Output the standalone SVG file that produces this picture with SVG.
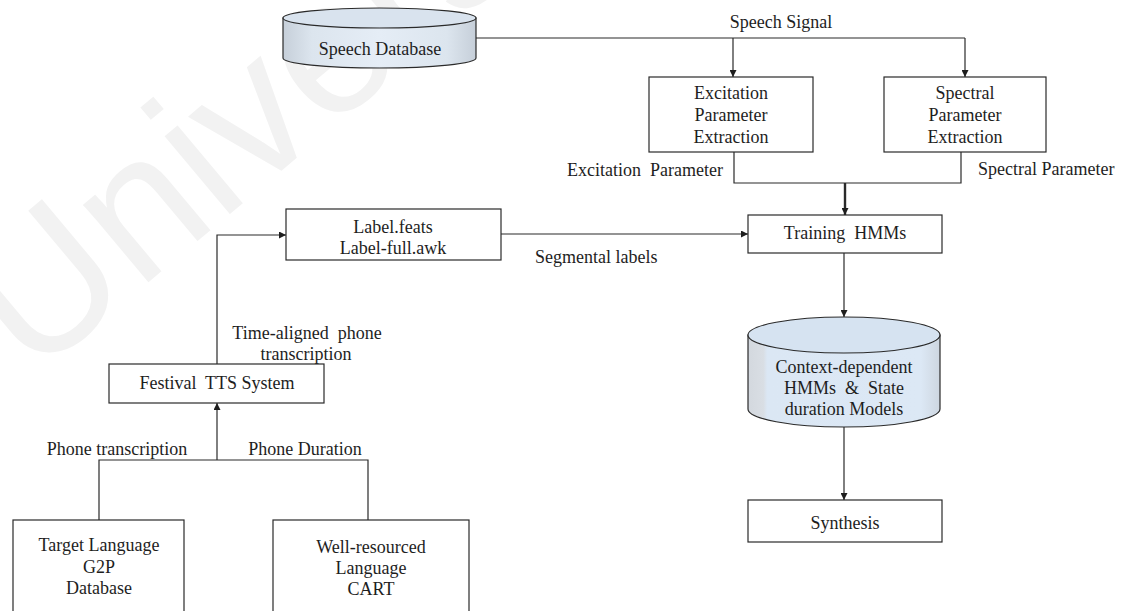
<svg xmlns="http://www.w3.org/2000/svg" width="1131" height="611" viewBox="0 0 1131 611">
  <style>
    .lbl { font-family: "Liberation Serif", "Times New Roman", serif; font-size: 18px; fill: #1e1e1e; }
    .mid { text-anchor: middle; }
    .pre { white-space: pre; }
    .box { fill: #ffffff; stroke: #2a2a2a; stroke-width: 1.2; }
    .db { stroke: #2a2a2a; stroke-width: 1.2; }
    .wire { fill: none; stroke: #2a2a2a; stroke-width: 1.2; }
    .thick { stroke-width: 2.4; }
    .mark { font-family: "Liberation Sans", Arial, sans-serif; font-size: 192px; fill: #f2f2f2; }
  </style>
  <defs>
    <marker id="arrow" viewBox="0 0 10 10" refX="10" refY="5" markerWidth="7" markerHeight="7" markerUnits="userSpaceOnUse" orient="auto">
      <path d="M0,0 L10,5 L0,10 Z" fill="#1e1e1e"/>
    </marker>
    <linearGradient id="dbBody" x1="0" y1="0" x2="1" y2="0">
      <stop offset="0" stop-color="#c6cfd9"/>
      <stop offset="0.15" stop-color="#dce5ee"/>
      <stop offset="0.5" stop-color="#e5edf6"/>
      <stop offset="0.85" stop-color="#dce5ee"/>
      <stop offset="1" stop-color="#c6cfd9"/>
    </linearGradient>
    <linearGradient id="hmmBody" x1="0" y1="0" x2="1" y2="0">
      <stop offset="0" stop-color="#d3d8de"/>
      <stop offset="0.08" stop-color="#d9dee4"/>
      <stop offset="0.1" stop-color="#dbe7f4"/>
      <stop offset="0.9" stop-color="#dce8f5"/>
      <stop offset="1" stop-color="#cdd6e0"/>
    </linearGradient>
  </defs>

  <!-- background and faint watermark -->
  <rect width="1131" height="611" fill="#ffffff"/>
  <text class="mark" transform="translate(32,380) rotate(-40)">University</text>

  <!-- connectors -->
  <g id="connectors">
    <path class="wire" d="M476,38 H965"/>
    <path class="wire" d="M733,38 V77" marker-end="url(#arrow)"/>
    <path class="wire" d="M965,38 V77" marker-end="url(#arrow)"/>
    <path class="wire" d="M734,152 V183 H961 V152"/>
    <path class="wire thick" d="M845,183 V215" marker-end="url(#arrow)"/>
    <path class="wire" d="M501,234 H748" marker-end="url(#arrow)"/>
    <path class="wire" d="M844,253 V317" marker-end="url(#arrow)"/>
    <path class="wire" d="M844,427 V500" marker-end="url(#arrow)"/>
    <path class="wire" d="M217,364 V235 H286" marker-end="url(#arrow)"/>
    <path class="wire" d="M99,520 V460 H368 V520"/>
    <path class="wire" d="M217,460 V403" marker-end="url(#arrow)"/>

    <text class="lbl mid" x="781" y="28">Speech Signal</text>
    <text class="lbl pre" x="723" y="176" text-anchor="end">Excitation  Parameter</text>
    <text class="lbl" x="978" y="175">Spectral Parameter</text>
    <text class="lbl" x="535" y="263">Segmental labels</text>
    <text class="lbl mid pre" x="307" y="339">Time-aligned  phone</text>
    <text class="lbl mid" x="306" y="360">transcription</text>
    <text class="lbl mid" x="117" y="455">Phone transcription</text>
    <text class="lbl mid" x="305" y="455">Phone Duration</text>
  </g>

  <!-- speech database -->
  <g id="speech-database">
    <path class="db" fill="url(#dbBody)" d="M283,18 V58 A96.5,10 0 0 0 476,58 V18 Z"/>
    <ellipse class="db" cx="379.5" cy="18" rx="96.5" ry="10" fill="#d9e3ee"/>
    <text class="lbl mid" x="380" y="55">Speech Database</text>
  </g>

  <g id="excitation-extraction">
    <rect class="box" x="649" y="77" width="164" height="75"/>
    <text class="lbl mid" x="731" y="99">Excitation</text>
    <text class="lbl mid" x="731" y="121">Parameter</text>
    <text class="lbl mid" x="731" y="143">Extraction</text>
  </g>

  <g id="spectral-extraction">
    <rect class="box" x="884" y="77" width="162" height="75"/>
    <text class="lbl mid" x="965" y="99">Spectral</text>
    <text class="lbl mid" x="965" y="121">Parameter</text>
    <text class="lbl mid" x="965" y="143">Extraction</text>
  </g>

  <g id="training-hmms">
    <rect class="box" x="748" y="215" width="194" height="38"/>
    <text class="lbl mid pre" x="845" y="239">Training  HMMs</text>
  </g>

  <g id="label-feats">
    <rect class="box" x="286" y="209" width="215" height="51"/>
    <text class="lbl mid" x="393" y="233">Label.feats</text>
    <text class="lbl mid" x="393" y="254">Label-full.awk</text>
  </g>

  <g id="hmm-models">
    <path class="db" fill="url(#hmmBody)" d="M748,335 V409 A96,18 0 0 0 940,409 V335 Z"/>
    <ellipse class="db" cx="844" cy="335" rx="96" ry="18" fill="#d6e3f1"/>
    <text class="lbl mid" x="844" y="373">Context-dependent</text>
    <text class="lbl mid pre" x="844" y="394">HMMs  &amp;  State</text>
    <text class="lbl mid" x="844" y="415">duration Models</text>
  </g>

  <g id="synthesis">
    <rect class="box" x="748" y="500" width="194" height="42"/>
    <text class="lbl mid" x="845" y="529">Synthesis</text>
  </g>

  <g id="festival-tts">
    <rect class="box" x="109" y="364" width="215" height="39"/>
    <text class="lbl mid pre" x="217" y="389">Festival  TTS System</text>
  </g>

  <g id="g2p-database">
    <rect class="box" x="13" y="520" width="171" height="100"/>
    <text class="lbl mid" x="99" y="551">Target Language</text>
    <text class="lbl mid" x="99" y="573">G2P</text>
    <text class="lbl mid" x="99" y="594">Database</text>
  </g>

  <g id="cart">
    <rect class="box" x="273" y="520" width="196" height="100"/>
    <text class="lbl mid" x="371" y="553">Well-resourced</text>
    <text class="lbl mid" x="371" y="574">Language</text>
    <text class="lbl mid" x="371" y="595">CART</text>
  </g>
</svg>
